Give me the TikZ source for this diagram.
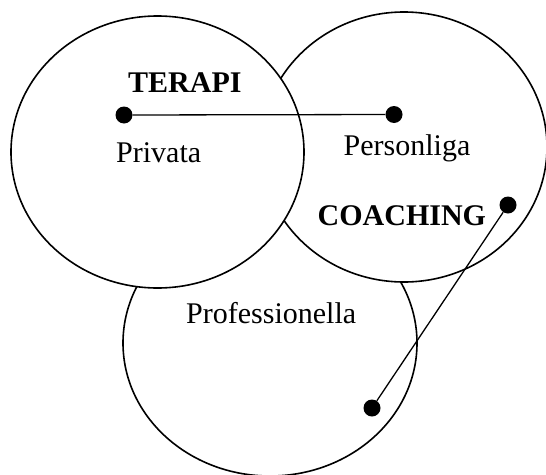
\documentclass[tikz,border=0pt]{standalone}
\usepackage{fontspec}
\setmainfont{Liberation Serif}
\usetikzlibrary{positioning}

\begin{document}
\begin{tikzpicture}[
    x=1pt, y=-1pt,
    ring/.style={draw=black, fill=white, line width=1.6pt},
    knob/.style={circle, fill=black, inner sep=0, minimum size=17pt},
    link/.style={draw=black, line width=1.3pt},
    word/.style={anchor=base west, inner sep=0, font=\fontsize{30pt}{36pt}\selectfont},
    heading/.style={word, font=\fontsize{30pt}{36pt}\selectfont\bfseries}]
\useasboundingbox (0,0) rectangle (546,474);

% the three overlapping areas, back to front
\path[ring] (270,343) ellipse [x radius=147, y radius=133];
\path[ring] (404,147) ellipse [x radius=143, y radius=135];
\path[ring] (157.5,152) ellipse [x radius=146.5, y radius=136];

% dots
\node[knob] (privata)  at (124,115)   {};
\node[knob] (personal) at (394,114.5) {};
\node[knob] (coach)    at (508,205)   {};
\node[knob] (prof)     at (372,408)   {};

\path[link] (privata) -- (personal);
\path[link] (coach) -- (prof);

% labels
\node[heading] (terapi)   at (128,92.7)  {TERAPI};
\node[word]    (priv)     at (116,162.7) {Privata};
\node[word]    (pers)     at (343.5,155) {Personliga};
\node[heading] (coaching) at (317.5,225) {COACHING};
\node[word]    (profl)    at (186,323.3) {Professionella};

\end{tikzpicture}
\end{document}
